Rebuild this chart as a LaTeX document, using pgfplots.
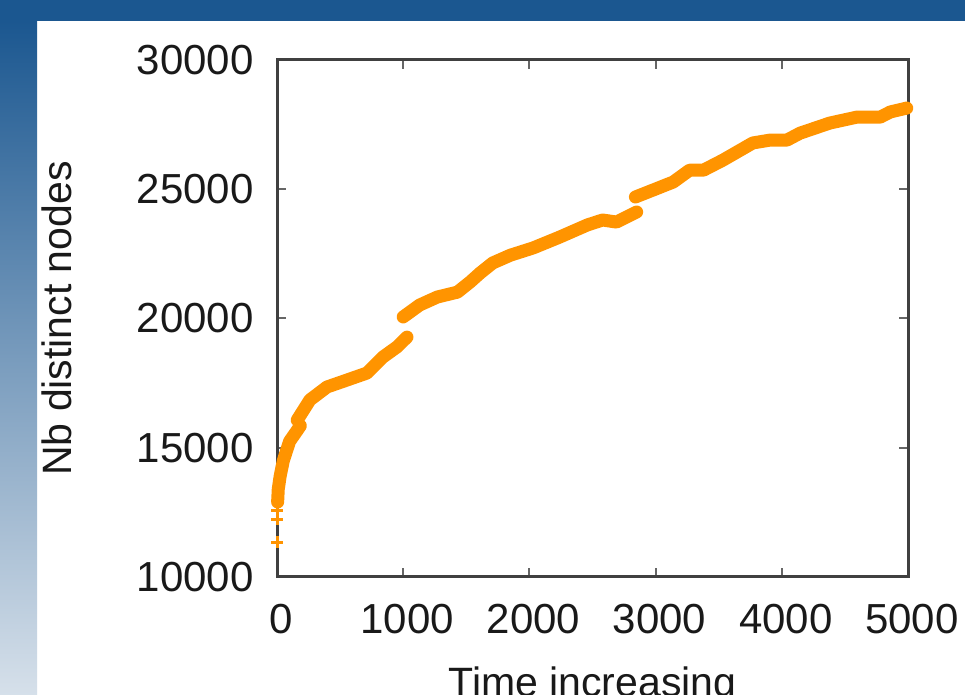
\documentclass[border=0pt]{standalone}
\usepackage{fontspec}
\setmainfont{Liberation Sans}
\usepackage{pgfplots}
\pgfplotsset{compat=1.18}
\definecolor{slideblue}{RGB}{27,87,144}
\definecolor{slidelight}{RGB}{214,224,234}
\definecolor{gporange}{RGB}{255,148,0}
\begin{document}
\begin{tikzpicture}[x=1pt,y=1pt]
\fill[white] (0,0) rectangle (965,695);
\fill[slideblue] (0,674) rectangle (965,695);
\shade[top color=slideblue, bottom color=slidelight] (0,0) rectangle (37,674);
\begin{scope}
\clip (0,0) rectangle (965,695);
\begin{axis}[
  at={(277pt,118pt)}, anchor=south west,
  scale only axis, width=631pt, height=517pt,
  xmin=0, xmax=5000, ymin=10000, ymax=30000,
  xtick={0,1000,...,5000}, ytick={10000,15000,...,30000},
  scaled ticks=false,
  /pgf/number format/1000 sep={},
  /pgf/number format/assume math mode=true,
  tick align=inside, major tick length=9pt,
  every tick/.style={black!60, line width=2pt},
  axis line style={black!75, line width=3pt},
  tick label style={font=\fontsize{42}{50}\selectfont, text=black!90},
  yticklabel style={anchor=east, xshift=-20pt},
  xticklabel style={anchor=north, yshift=-24pt, xshift=4pt},
  xlabel={Time increasing},
  ylabel={Nb distinct nodes},
  every axis x label/.style={at={(axis description cs:0.5,-0.2302)}, anchor=base, font=\fontsize{41}{48}\selectfont, text=black!90},
  every axis y label/.style={at={(axis description cs:-0.3487,0.5)}, rotate=90, anchor=center, font=\fontsize{41}{48}\selectfont, text=black!90},
  clip=false,
]
\addplot[only marks, mark=+, mark size=6pt, gporange, line width=3pt] coordinates {
(0,11350) (0,12240) (0,12590) (5,12900)
};
\addplot[gporange, line width=13pt, line cap=round, line join=round] coordinates {
(5,12900) (10,13400) (25,13900) (50,14500) (100,15250) (150,15600) (185,15850)
};
\addplot[gporange, line width=13pt, line cap=round, line join=round] coordinates {
(160,16070) (261,16850) (396,17350) (555,17620) (713,17890) (840,18510) (951,18900) (1030,19280)
};
\addplot[gporange, line width=13pt, line cap=round, line join=round] coordinates {
(1000,20060) (1130,20520) (1270,20830) (1430,21020) (1530,21410) (1610,21760) (1710,22150) (1850,22450) (2030,22730) (2240,23150) (2460,23620) (2580,23810) (2690,23730) (2850,24120)
};
\addplot[gporange, line width=13pt, line cap=round, line join=round] coordinates {
(2840,24700) (2980,24970) (3140,25280) (3270,25740) (3380,25740) (3535,26130) (3770,26790) (3905,26900) (4040,26900) (4145,27170) (4380,27560) (4595,27790) (4780,27790) (4860,27990) (4990,28140)
};
\end{axis}
\end{scope}
\pgfresetboundingbox
\path[use as bounding box] (0,0) rectangle (965,695);
\end{tikzpicture}
\end{document}
